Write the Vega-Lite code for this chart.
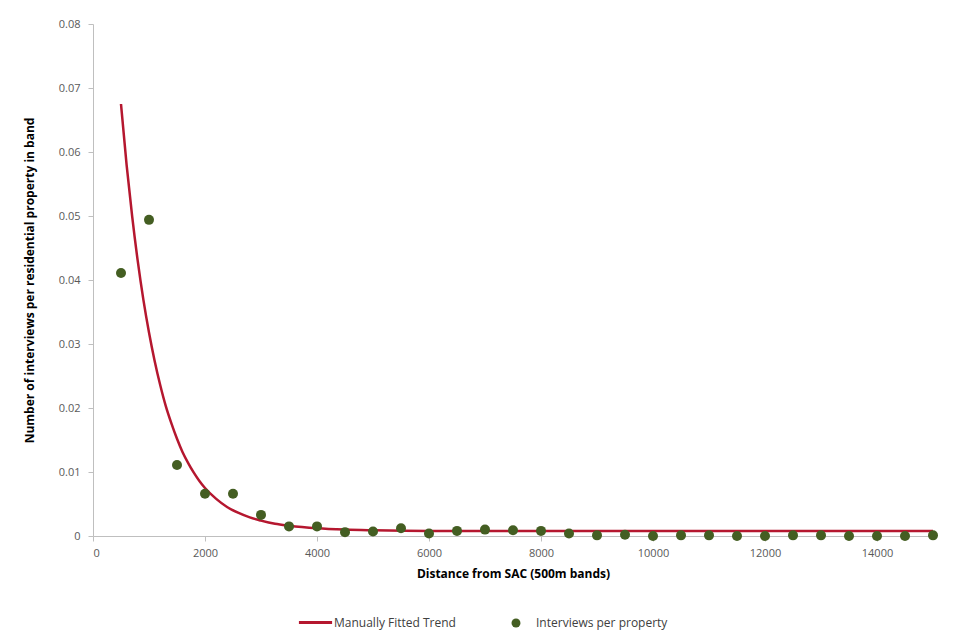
{
  "$schema": "https://vega.github.io/schema/vega-lite/v6.json",
  "width": 840,
  "height": 512,
  "autosize": "none",
  "padding": {"left": 93, "top": 24, "right": 29, "bottom": 108},
  "background": "white",
  "config": {
    "view": {"stroke": null},
    "font": "Open Sans",
    "axis": {
      "domainColor": "#BFBFBF",
      "tickColor": "#BFBFBF",
      "grid": false,
      "labelColor": "#595959",
      "labelFont": "Open Sans",
      "labelFontSize": 11,
      "titleFont": "Open Sans",
      "titleFontSize": 12,
      "titleFontWeight": "bold",
      "titleColor": "#000000",
      "tickSize": 5
    },
    "legend": {
      "labelFont": "Open Sans",
      "labelFontSize": 12,
      "labelColor": "#404040"
    }
  },
  "datasets": {
    "trend": [
      {"distance": 500, "rate": 0.0675},
      {"distance": 600, "rate": 0.0580},
      {"distance": 700, "rate": 0.0499},
      {"distance": 800, "rate": 0.0429},
      {"distance": 900, "rate": 0.0369},
      {"distance": 1000, "rate": 0.0318},
      {"distance": 1100, "rate": 0.0274},
      {"distance": 1200, "rate": 0.0236},
      {"distance": 1300, "rate": 0.0203},
      {"distance": 1400, "rate": 0.0176},
      {"distance": 1500, "rate": 0.0152},
      {"distance": 1600, "rate": 0.0131},
      {"distance": 1700, "rate": 0.0114},
      {"distance": 1800, "rate": 0.0099},
      {"distance": 1900, "rate": 0.0086},
      {"distance": 2000, "rate": 0.0075},
      {"distance": 2200, "rate": 0.0058},
      {"distance": 2400, "rate": 0.0045},
      {"distance": 2600, "rate": 0.0036},
      {"distance": 2800, "rate": 0.0029},
      {"distance": 3000, "rate": 0.0024},
      {"distance": 3250, "rate": 0.0019},
      {"distance": 3500, "rate": 0.0016},
      {"distance": 4000, "rate": 0.0012},
      {"distance": 4500, "rate": 0.0010},
      {"distance": 5000, "rate": 0.0009},
      {"distance": 6000, "rate": 0.0008},
      {"distance": 8000, "rate": 0.0008},
      {"distance": 10000, "rate": 0.0008},
      {"distance": 12000, "rate": 0.0008},
      {"distance": 15000, "rate": 0.0008}
    ],
    "interviews": [
      {"distance": 500, "rate": 0.0411},
      {"distance": 1000, "rate": 0.0494},
      {"distance": 1500, "rate": 0.0111},
      {"distance": 2000, "rate": 0.0066},
      {"distance": 2500, "rate": 0.0066},
      {"distance": 3000, "rate": 0.0033},
      {"distance": 3500, "rate": 0.0015},
      {"distance": 4000, "rate": 0.0015},
      {"distance": 4500, "rate": 0.0006},
      {"distance": 5000, "rate": 0.0007},
      {"distance": 5500, "rate": 0.0012},
      {"distance": 6000, "rate": 0.0004},
      {"distance": 6500, "rate": 0.0008},
      {"distance": 7000, "rate": 0.0010},
      {"distance": 7500, "rate": 0.0009},
      {"distance": 8000, "rate": 0.0008},
      {"distance": 8500, "rate": 0.0004},
      {"distance": 9000, "rate": 0.0001},
      {"distance": 9500, "rate": 0.0002},
      {"distance": 10000, "rate": 0.0},
      {"distance": 10500, "rate": 0.0001},
      {"distance": 11000, "rate": 0.0001},
      {"distance": 11500, "rate": 0.0},
      {"distance": 12000, "rate": 0.0},
      {"distance": 12500, "rate": 0.0001},
      {"distance": 13000, "rate": 0.0001},
      {"distance": 13500, "rate": 0.0},
      {"distance": 14000, "rate": 0.0},
      {"distance": 14500, "rate": 0.0},
      {"distance": 15000, "rate": 0.0001}
    ]
  },
  "encoding": {
    "x": {
      "field": "distance",
      "type": "quantitative",
      "scale": {"domain": [0, 15000], "nice": false, "zero": true},
      "axis": {
        "title": "Distance from SAC (500m bands)",
        "values": [0, 2000, 4000, 6000, 8000, 10000, 12000, 14000],
        "format": "d",
        "labelPadding": 6,
        "titlePadding": 10
      }
    },
    "y": {
      "field": "rate",
      "type": "quantitative",
      "scale": {"domain": [0, 0.08], "nice": false},
      "axis": {
        "title": "Number of interviews per residential property in band",
        "values": [0, 0.01, 0.02, 0.03, 0.04, 0.05, 0.06, 0.07, 0.08],
        "labelExpr": "datum.value == 0 ? '0' : format(datum.value, '.2f')",
        "labelPadding": 8,
        "titlePadding": 22
      }
    }
  },
  "layer": [
    {
      "data": {"name": "trend"},
      "transform": [{"calculate": "'Manually Fitted Trend'", "as": "series"}],
      "mark": {"type": "line", "interpolate": "monotone", "strokeWidth": 2.5},
      "encoding": {
        "stroke": {
          "field": "series",
          "type": "nominal",
          "scale": {"domain": ["Manually Fitted Trend"], "range": ["#B5172F"]},
          "legend": {
            "title": null,
            "orient": "none",
            "legendX": 204,
            "legendY": 580,
            "symbolSize": 1100,
            "symbolStrokeWidth": 3,
            "labelOffset": 0
          }
        }
      }
    },
    {
      "data": {"name": "interviews"},
      "transform": [{"calculate": "'Interviews per property'", "as": "group"}],
      "mark": {"type": "point", "filled": true, "shape": "circle", "size": 100, "opacity": 1},
      "encoding": {
        "fill": {
          "field": "group",
          "type": "nominal",
          "scale": {"domain": ["Interviews per property"], "range": ["#445E22"]},
          "legend": {
            "title": null,
            "orient": "none",
            "legendX": 417,
            "legendY": 593,
            "symbolSize": 80,
            "labelOffset": 14
          }
        }
      }
    }
  ]
}
